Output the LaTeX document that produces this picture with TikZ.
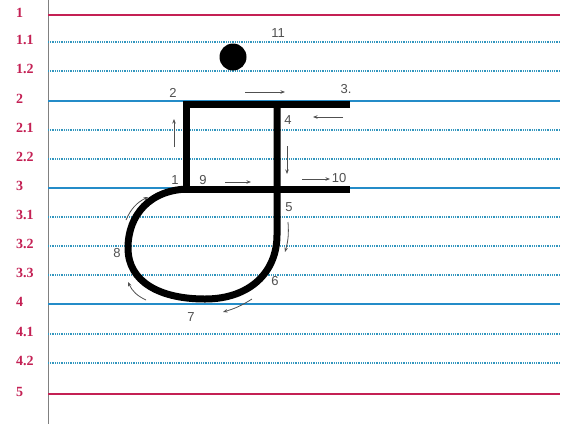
\documentclass[tikz,border=0pt]{standalone}
\usepackage{fontspec}
\setmainfont{Liberation Serif}
\newfontfamily\numfont{Liberation Sans}
\usetikzlibrary{arrows.meta}
\definecolor{crim}{RGB}{196,32,84}
\definecolor{solidblue}{RGB}{36,140,200}
\definecolor{dotblue}{RGB}{50,150,190}
\definecolor{hintgray}{RGB}{80,80,80}
\tikzset{
  redline/.style={crim, line width=1.4pt},
  blueline/.style={solidblue, line width=1.6pt},
  dotline/.style={dotblue, line width=1.1pt, dash pattern=on 1pt off 0.8pt},
  rowlabel/.style={anchor=west, inner sep=0pt, text=crim, font=\bfseries\fontsize{14}{14}\selectfont},
  ptlabel/.style={inner sep=0pt, text=hintgray, font=\numfont\fontsize{13}{13}\selectfont},
  letterstroke/.style={black, line width=7pt, line join=miter},
  hint/.style={hintgray, line width=0.8pt, -{Stealth[length=4.5pt,width=3.5pt]}}
}
\begin{document}
\begin{tikzpicture}[x=1pt,y=-1pt]
\useasboundingbox (0,0) rectangle (572,424);
\fill[white] (0,0) rectangle (572,424);
% margin line
\coordinate (mtop) at (48,0);
\coordinate (mbot) at (48,424);
\draw[gray, line width=0.6pt] (mtop) -- (mbot);
% ruled lines
\foreach \y/\lab/\sty [count=\i] in {15/1/redline, 42/1.1/dotline, 71/1.2/dotline, 101/2/blueline,
  130/2.1/dotline, 159/2.2/dotline, 188/3/blueline, 217/3.1/dotline, 246/3.2/dotline,
  275/3.3/dotline, 304/4/blueline, 334/4.1/dotline, 363/4.2/dotline, 394/5/redline}{
  \node[rowlabel] (lab\i) at (16,\y-2) {\lab};
  \coordinate (ls\i) at (48,\y);
  \coordinate (le\i) at (560,\y);
  \draw[\sty] (ls\i) -- (le\i);
}
% letter
\coordinate (p3) at (350,104);
\coordinate (p2) at (186,104);
\coordinate (p1) at (186,189);
\coordinate (p10) at (350,189);
\coordinate (p4) at (277,104);
\coordinate (p5) at (277,235);
\coordinate (p7) at (205,299);
\coordinate (p8) at (128,248);
\coordinate (p9) at (190,189);
\draw[letterstroke] (p3) -- (p2) -- (p1) -- (p10);
\draw[letterstroke] (p4) -- (p5) .. controls (277,272) and (250,299) .. (p7)
  .. controls (160,299) and (128,282) .. (p8)
  .. controls (128,215) and (150,189) .. (p9);
\fill[black] (233,57) circle (13.5);
% point labels
\node[ptlabel] (n11) at (278,33) {11};
\node[ptlabel] (n2) at (173,93) {2};
\node[ptlabel] (n3) at (346,89) {3.};
\node[ptlabel] (n4) at (288,120) {4};
\node[ptlabel] (n1) at (175,180) {1};
\node[ptlabel] (n9) at (203,180) {9};
\node[ptlabel] (n10) at (339,178) {10};
\node[ptlabel] (n5) at (289,207) {5};
\node[ptlabel] (n8) at (117,253) {8};
\node[ptlabel] (n6) at (275,281) {6};
\node[ptlabel] (n7) at (191,317) {7};
% direction hints
\coordinate (a1s) at (245,92); \coordinate (a1e) at (285,92);
\coordinate (a2s) at (343,117); \coordinate (a2e) at (313,117);
\coordinate (a3s) at (174,147); \coordinate (a3e) at (174,119);
\coordinate (a4s) at (287,146); \coordinate (a4e) at (287,174);
\coordinate (a5s) at (225,182); \coordinate (a5e) at (251,182);
\coordinate (a6s) at (302,179); \coordinate (a6e) at (330,179);
\coordinate (a7s) at (288,222); \coordinate (a7e) at (285,252);
\coordinate (a8s) at (126,220); \coordinate (a8e) at (148,197);
\coordinate (a9s) at (146,300); \coordinate (a9e) at (128,282);
\coordinate (a10s) at (252,299); \coordinate (a10e) at (223,312);
\draw[hint] (a1s) -- (a1e);
\draw[hint] (a2s) -- (a2e);
\draw[hint] (a3s) -- (a3e);
\draw[hint] (a4s) -- (a4e);
\draw[hint] (a5s) -- (a5e);
\draw[hint] (a6s) -- (a6e);
\draw[hint] (a7s) to[bend left=10] (a7e);
\draw[hint] (a8s) to[bend left=20] (a8e);
\draw[hint] (a9s) to[bend left=20] (a9e);
\draw[hint] (a10s) to[bend left=8] (a10e);
\end{tikzpicture}
\end{document}
